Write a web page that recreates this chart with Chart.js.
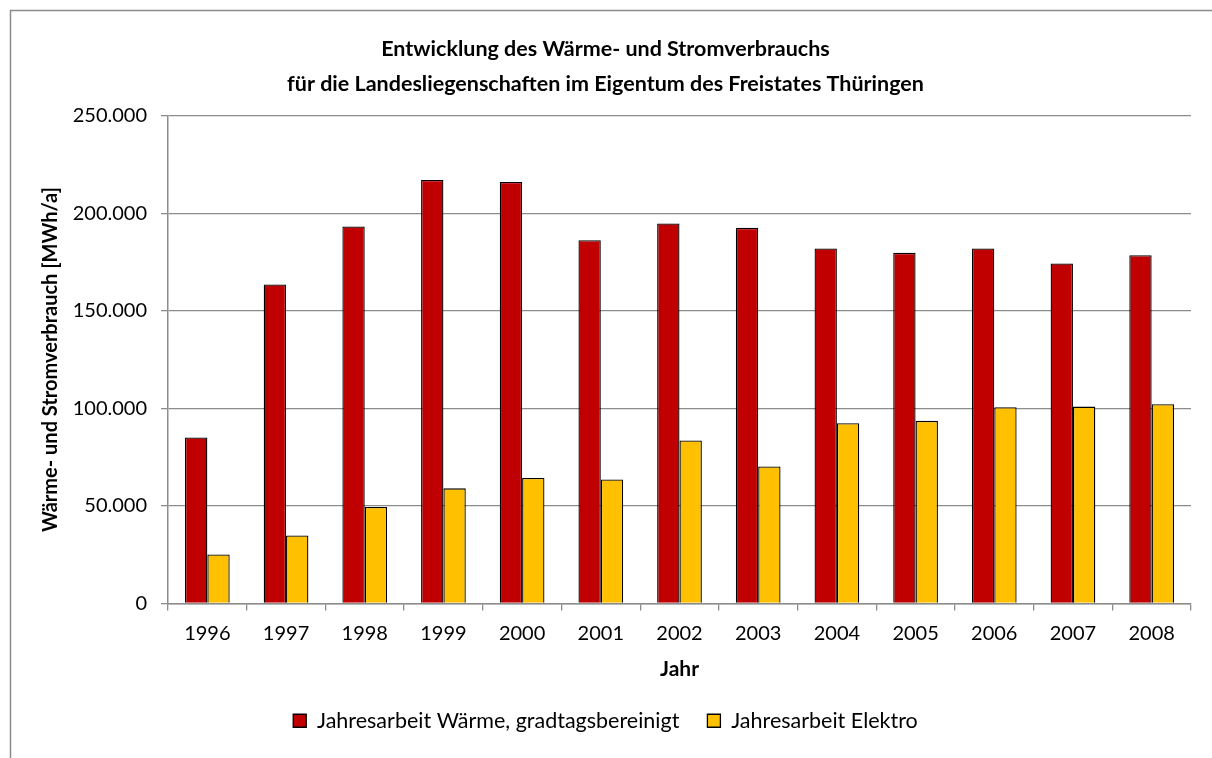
<!DOCTYPE html>
<html>
<head>
<meta charset="utf-8">
<script src="https://cdn.jsdelivr.net/npm/chart.js@4"></script>
<style>
  html, body { margin: 0; padding: 0; background: #fff; }
  #wrap { width: 1212px; height: 758px; }
</style>
</head>
<body>
<div id="wrap"><canvas id="chart" width="1212" height="758"></canvas></div>
<script>
// Daten (MWh/a)
const jahre = ['1996', '1997', '1998', '1999', '2000', '2001', '2002', '2003', '2004', '2005', '2006', '2007', '2008'];
const waerme = [85100, 163500, 193200, 217000, 216000, 186200, 194700, 192500, 181900, 179700, 181900, 174300, 178500];
const elektro = [25100, 34900, 49500, 59000, 64300, 63600, 83500, 70200, 92400, 93600, 100600, 100900, 102100];
const titelZeilen = ['Entwicklung des Wärme- und Stromverbrauchs', 'für die Landesliegenschaften im Eigentum des Freistates Thüringen'];
const serienNamen = ['Jahresarbeit Wärme, gradtagsbereinigt', 'Jahresarbeit Elektro'];

const schrift = 'Lato, "Liberation Sans", sans-serif';

function formatZahl(v) {
  return String(v).replace(/\B(?=(\d{3})+(?!\d))/g, '.');
}

// Rahmen um das Diagramm
const rahmen = {
  id: 'rahmen',
  beforeDraw(chart) {
    const ctx = chart.ctx;
    ctx.save();
    ctx.fillStyle = '#fff';
    ctx.fillRect(0, 0, chart.width, chart.height);
    ctx.strokeStyle = '#8c8c8c';
    ctx.lineWidth = 1.5;
    ctx.beginPath();
    ctx.moveTo(10.5, chart.height);
    ctx.lineTo(10.5, 10.5);
    ctx.lineTo(chart.width, 10.5);
    ctx.stroke();
    ctx.restore();
  }
};

new Chart(document.getElementById('chart'), {
  type: 'bar',
  data: {
    labels: jahre,
    datasets: [{
      label: serienNamen[0],
      data: waerme,
      backgroundColor: '#C00000',
      borderColor: '#000',
      borderWidth: 1.3
    }, {
      label: serienNamen[1],
      data: elektro,
      backgroundColor: '#FFC000',
      borderColor: '#000',
      borderWidth: 1.3
    }]
  },
  options: {
    responsive: false,
    animation: false,
    datasets: {
      bar: { categoryPercentage: 0.568, barPercentage: 1.0 }
    },
    layout: { padding: { left: 20, right: 21, top: 32, bottom: 16.5 } },
    plugins: {
      title: {
        display: true,
        text: titelZeilen,
        color: '#000',
        font: { family: schrift, size: 21.5, weight: 'bold', lineHeight: 1.62 },
        padding: { top: 0, bottom: 14 }
      },
      legend: {
        position: 'bottom',
        labels: {
          color: '#000',
          font: { family: schrift, size: 21.5 },
          boxWidth: 13,
          boxHeight: 13,
          padding: 28
        }
      },
      tooltip: { enabled: false }
    },
    scales: {
      x: {
        grid: { drawOnChartArea: false, offset: true, color: '#8c8c8c', tickLength: 7, lineWidth: 1.3 },
        border: { color: '#8c8c8c', width: 1.5 },
        ticks: { color: '#000', font: { family: schrift, size: 20 }, padding: 11.5 },
        title: {
          display: true,
          text: 'Jahr',
          color: '#000',
          font: { family: schrift, size: 21, weight: 'bold' },
          padding: { top: 4, bottom: 0 }
        },
        afterFit(scale) { scale.height = 78.5; }
      },
      y: {
        min: 0,
        max: 250000,
        ticks: {
          stepSize: 50000,
          color: '#000',
          font: { family: schrift, size: 20 },
          padding: 14,
          callback: v => formatZahl(v)
        },
        grid: { color: '#8c8c8c', lineWidth: 1.3, tickLength: 7 },
        border: { color: '#8c8c8c', width: 1.5 },
        title: {
          display: true,
          text: 'Wärme- und Stromverbrauch [MWh/a]',
          color: '#000',
          font: { family: schrift, size: 20, weight: 'bold' },
          padding: { top: 19, bottom: 0 }
        },
        afterFit(scale) { scale.width = 148; }
      }
    }
  },
  plugins: [rahmen]
});
</script>
</body>
</html>
